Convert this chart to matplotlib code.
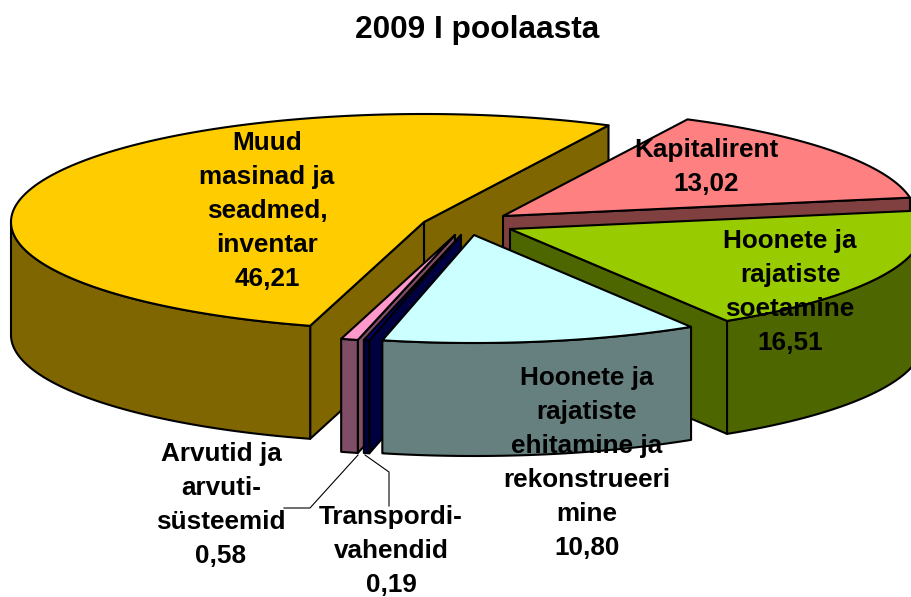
import numpy as np
import matplotlib
matplotlib.use("Agg")
import matplotlib.pyplot as plt
from matplotlib.patches import Polygon

title = "2009 I poolaasta"
# clockwise order from the start angle
names = ["Muud\nmasinad ja\nseadmed,\ninventar", "Kapitalirent", "Hoonete ja\nrajatiste\nsoetamine",
         "Hoonete ja\nrajatiste\nehitamine ja\nrekonstrueeri\nmine", "Transpordi-\nvahendid", "Arvutid ja\narvuti-\nsüsteemid"]
values = [46.21, 13.02, 16.51, 10.80, 0.19, 0.58]
value_text = ["46,21", "13,02", "16,51", "10,80", "0,19", "0,58"]
top_colors = ["#FFCC00", "#FF8080", "#99CC00", "#CCFFFF", "#000080", "#FF99CC"]
wall_colors = ["#806600", "#804040", "#4D6600", "#668080", "#000040", "#804D66"]
apex = [(424, 222), (503, 216), (510, 229), (474, 235), (461, 235), (455, 235)]
label_pos = [(267, 211), (706, 167), (790, 292), (587, 463), (391, 551), (221, 505)]
draw_order = [0, 1, 2, 5, 4, 3]

A, B, DEPTH = 413, 108, 113
START = 254.0  # upper bound of the first slice, degrees

plt.rcParams["font.family"] = "Liberation Sans"
fig = plt.figure(figsize=(9.11, 5.97), dpi=100)
ax = fig.add_axes([0, 0, 1, 1])
ax.set_xlim(0, 911)
ax.set_ylim(597, 0)
ax.axis("off")

sweeps = np.array(values) / sum(values) * 360
uppers = START - np.concatenate([[0], np.cumsum(sweeps)[:-1]])


def rim_at(c, angles):
    t = np.radians(angles)
    return np.column_stack([c[0] + A * np.cos(t), c[1] - B * np.sin(t)])


def add(points, color, z):
    ax.add_patch(Polygon(points, closed=True, facecolor=color, edgecolor="black",
                         linewidth=1.5, joinstyle="round", zorder=z))


z = 1
for i in draw_order:
    hi, lo = uppers[i], uppers[i] - sweeps[i]
    c = np.array(apex[i], float)
    down = np.array([0, DEPTH])
    # cut faces turned towards the viewer
    for ang, normal in ((lo, lo - 90), (hi, hi + 90)):
        if np.sin(np.radians(normal)) < 0:
            p = rim_at(c, np.array([ang]))[0]
            add([c, p, p + down, c + down], wall_colors[i], z)
            z += 1
    # outer wall: the part of the rim on the front half
    angs = np.linspace(lo, hi, 600)
    angs = angs[np.sin(np.radians(angs)) <= 0]
    if len(angs) > 1:
        edge = rim_at(c, angs)
        add(np.vstack([edge, (edge + down)[::-1]]), wall_colors[i], z)
        z += 1
    add(np.vstack([[c], rim_at(c, np.linspace(lo, hi, 300))]), top_colors[i], z)
    z += 1

ax.plot([358, 310, 284], [455, 508, 508], color="black", lw=0.8, zorder=50)
ax.plot([365, 389, 389], [455, 472, 506], color="black", lw=0.8, zorder=50)

for name, val, (x, y) in zip(names, value_text, label_pos):
    ax.text(x, y, name + "\n" + val, ha="center", va="center", fontsize=18.8,
            fontweight="bold", linespacing=1.52, color="black", zorder=60)
ax.text(477, 30, title, ha="center", va="center", fontsize=22.8, fontweight="bold", zorder=60)

fig.savefig("out.png", dpi=100)
